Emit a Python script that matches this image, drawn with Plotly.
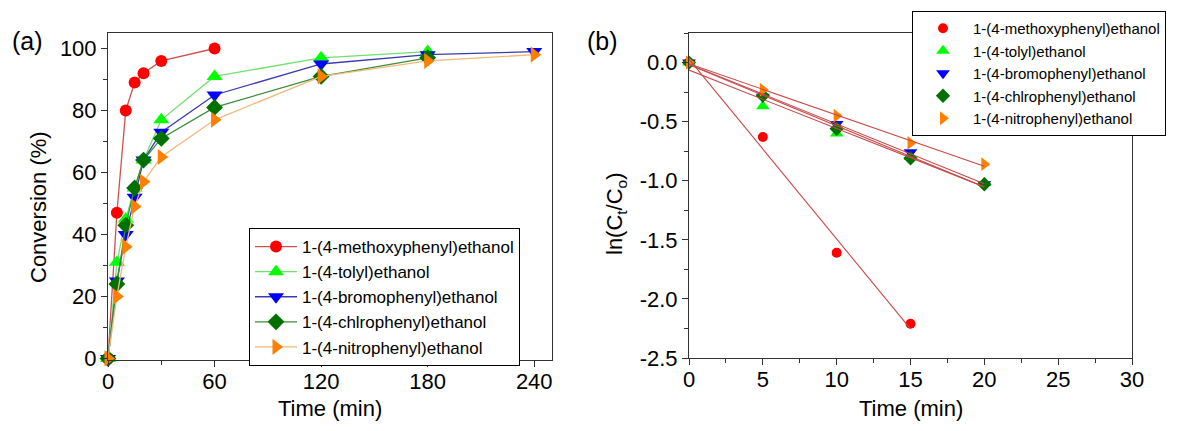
import numpy as np
import plotly.graph_objects as go

# ---------------- data ----------------
names = ["1-(4-methoxyphenyl)ethanol", "1-(4-tolyl)ethanol", "1-(4-bromophenyl)ethanol",
         "1-(4-chlrophenyl)ethanol", "1-(4-nitrophenyl)ethanol"]

# (a) conversion vs time
time_a_methoxy = [0, 5, 10, 15, 20, 30, 60]
conv_methoxy = [0, 47, 80, 89, 92, 96, 100]
time_a_tolyl = [0, 5, 10, 15, 20, 30, 60, 120, 180]
conv_tolyl = [0, 31, 45, 55, 64, 77, 91, 97, 99]
time_a_bromo = [0, 5, 10, 15, 20, 30, 60, 120, 180, 240]
conv_bromo = [0, 25, 40, 52, 64, 73, 85, 95, 98, 99]
time_a_chloro = [0, 5, 10, 15, 20, 30, 60, 120, 180]
conv_chloro = [0, 24, 43, 55, 64, 71, 81, 91, 97]
time_a_nitro = [0, 5, 10, 15, 20, 30, 60, 120, 180, 240]
conv_nitro = [0, 20, 36, 49, 57, 65, 77, 91, 96, 98]

# (b) ln(Ct/Co) vs time
time_b_methoxy = [0, 5, 10, 15]
ln_methoxy = [0, -0.63, -1.61, -2.21]
time_b = [0, 5, 10, 15, 20]
ln_tolyl = [0, -0.37, -0.60, -0.80, -1.02]
ln_bromo = [0, -0.29, -0.52, -0.76, -1.03]
ln_chloro = [0, -0.28, -0.56, -0.81, -1.03]
ln_nitro = [0, -0.23, -0.45, -0.68, -0.86]

xticks_a = [0, 60, 120, 180, 240]
yticks_a = [0, 20, 40, 60, 80, 100]
xticks_b = [0, 5, 10, 15, 20, 25, 30]
yticks_b = [0.0, -0.5, -1.0, -1.5, -2.0, -2.5]
yticktext_b = ["0.0", "-0.5", "-1.0", "-1.5", "-2.0", "-2.5"]

# ---------------- style ----------------
FONT = "Arial, Liberation Sans, sans-serif"
marker_colors = ["#ff0000", "#00ff00", "#0000ff", "#007000", "#ff8000"]
line_colors = ["#d05050", "#70e070", "#3a3ab0", "#3c8c3c", "#f2b878"]
symbols = ["circle", "triangle-up", "triangle-down", "diamond", "triangle-right"]
sizes = [12, 14, 14, 13, 14]
fit_color = "#c84848"

W, H = 1184, 431
def px(x):
    return x / W
def py(y):
    return (H - y) / H

fig = go.Figure()

series_a = [(time_a_methoxy, conv_methoxy), (time_a_tolyl, conv_tolyl), (time_a_bromo, conv_bromo),
            (time_a_chloro, conv_chloro), (time_a_nitro, conv_nitro)]
for i, (t, c) in enumerate(series_a):
    fig.add_trace(go.Scatter(
        x=t, y=c, mode="lines+markers", name=names[i],
        line=dict(color=line_colors[i], width=1.3),
        marker=dict(color=marker_colors[i], symbol=symbols[i], size=sizes[i], line=dict(width=0)),
        xaxis="x", yaxis="y", legend="legend", cliponaxis=False))

series_b = [(time_b_methoxy, ln_methoxy), (time_b, ln_tolyl), (time_b, ln_bromo),
            (time_b, ln_chloro), (time_b, ln_nitro)]
for i, (t, v) in enumerate(series_b):
    fig.add_trace(go.Scatter(
        x=t, y=v, mode="markers", name=names[i],
        marker=dict(color=marker_colors[i], symbol=symbols[i], size=sizes[i] - 2, line=dict(width=0)),
        xaxis="x2", yaxis="y2", legend="legend2", cliponaxis=False))
# linear fits
for i, (t, v) in enumerate(series_b):
    k, b = np.polyfit(t, v, 1)
    xs = np.array([min(t), max(t)], dtype=float)
    fig.add_trace(go.Scatter(
        x=xs, y=k * xs + b, mode="lines", showlegend=False,
        line=dict(color=fit_color, width=1.1), xaxis="x2", yaxis="y2", hoverinfo="skip"))

axis_common = dict(
    showline=True, linecolor="#333333", linewidth=1, mirror=True,
    ticks="outside", ticklen=6, tickcolor="#333333", tickwidth=1,
    showgrid=False, zeroline=False, automargin=False,
    tickfont=dict(family=FONT, size=22, color="black"),
)
minor_style = dict(ticks="outside", ticklen=4, tickcolor="#333333", tick0=0)

title_font = dict(family=FONT, size=22, color="black")

fig.update_layout(
    width=W, height=H, autosize=False,
    margin=dict(l=0, r=0, t=0, b=0),
    paper_bgcolor="white", plot_bgcolor="white",
    font=dict(family=FONT, color="black"),
    xaxis=dict(domain=[px(108), px(552)], range=[0, 250], tickvals=xticks_a, ticklabelstandoff=-4,
               minor=dict(dtick=30, **minor_style), anchor="y", **axis_common),
    yaxis=dict(domain=[py(360), py(33)], range=[-0.5, 105], tickvals=yticks_a,
               minor=dict(dtick=10, **minor_style), anchor="x", **axis_common),
    xaxis2=dict(domain=[px(689), px(1132)], range=[0, 30], tickvals=xticks_b, ticklabelstandoff=-4,
                minor=dict(dtick=2.5, **minor_style), anchor="y2", **axis_common),
    yaxis2=dict(domain=[py(358), py(33)], range=[-2.5, 0.25], tickvals=yticks_b, ticktext=yticktext_b,
                minor=dict(dtick=0.25, **minor_style), anchor="x2", **axis_common),
    legend=dict(x=px(249), y=py(228), xanchor="left", yanchor="top",
                bordercolor="black", borderwidth=1, bgcolor="white",
                font=dict(family=FONT, size=17, color="black"),
                itemwidth=42, tracegroupgap=0),
    legend2=dict(x=px(912), y=py(11), xanchor="left", yanchor="top",
                 bordercolor="black", borderwidth=1, bgcolor="white",
                 font=dict(family=FONT, size=15, color="black"),
                 itemwidth=50, tracegroupgap=0),
    annotations=[
        dict(text="(a)", x=px(10), y=py(41), xref="paper", yref="paper", xanchor="left",
             yanchor="middle", showarrow=False, font=dict(family=FONT, size=25, color="black")),
        dict(text="(b)", x=px(585), y=py(41), xref="paper", yref="paper", xanchor="left",
             yanchor="middle", showarrow=False, font=dict(family=FONT, size=25, color="black")),
        # axis titles
        dict(text="Time (min)", x=px(330), y=py(408), xref="paper", yref="paper",
             xanchor="center", yanchor="middle", showarrow=False, font=title_font),
        dict(text="Time (min)", x=px(911), y=py(408), xref="paper", yref="paper",
             xanchor="center", yanchor="middle", showarrow=False, font=title_font),
        dict(text="Conversion (%)", x=px(38), y=py(207), xref="paper", yref="paper", textangle=-90,
             xanchor="center", yanchor="middle", showarrow=False, font=title_font),
        dict(text="ln(C<sub>t</sub>/C<sub>o</sub>)", x=px(616), y=py(214), xref="paper", yref="paper",
             textangle=-90, xanchor="center", yanchor="middle", showarrow=False, font=title_font),
    ],
)

fig.write_html("out.html", post_script="document.body.style.margin='0';",
               config={"displayModeBar": False})
